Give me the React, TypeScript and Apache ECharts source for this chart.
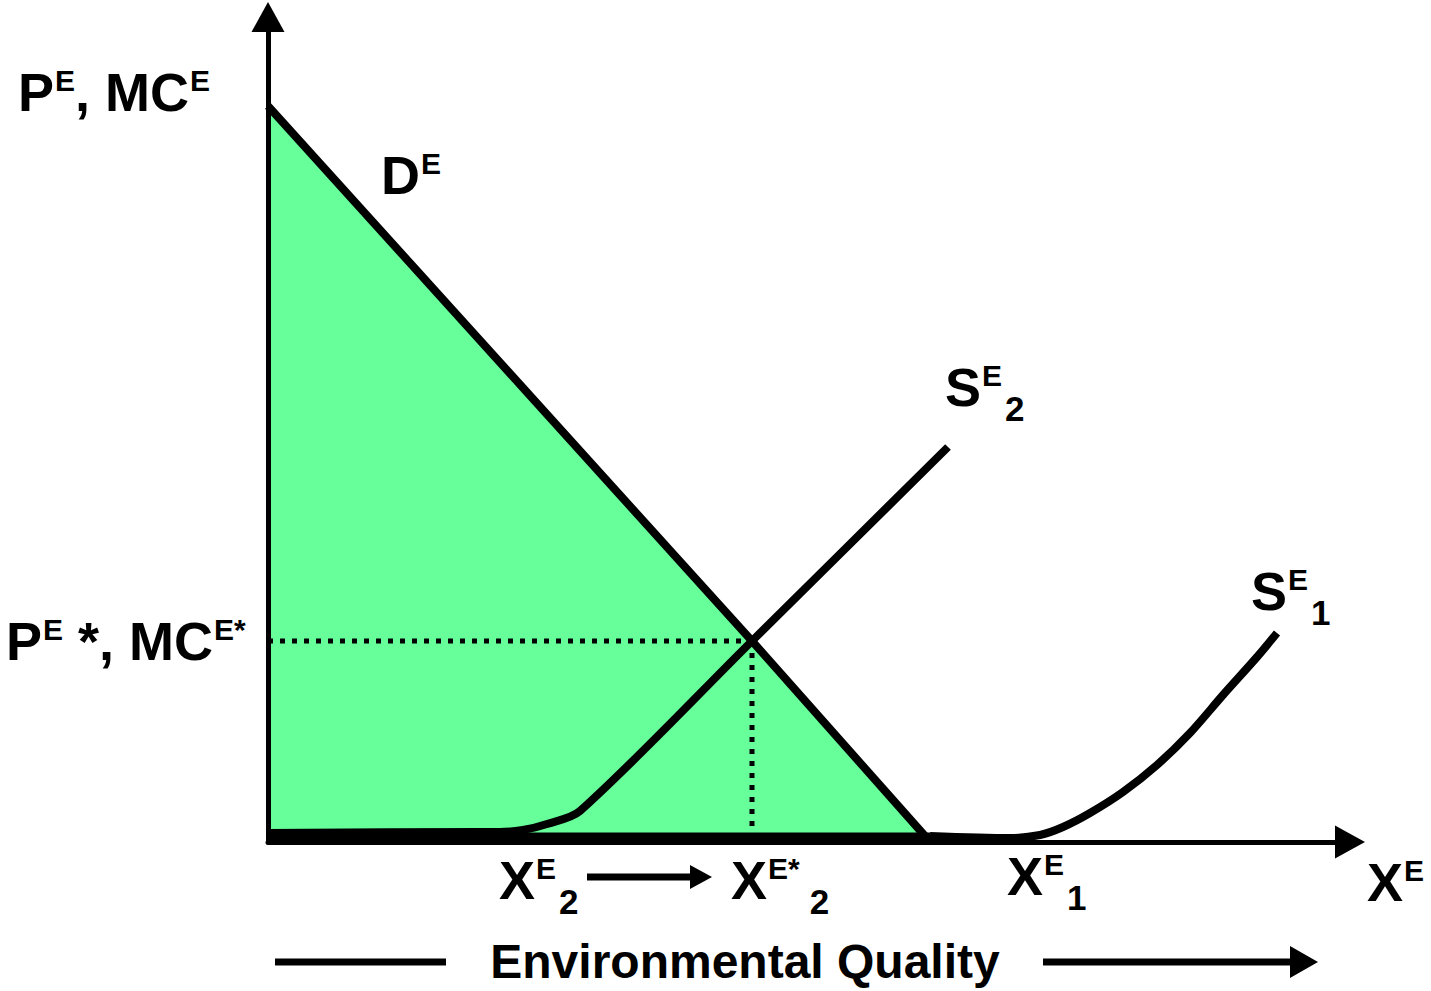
import React, { useEffect, useRef } from "react";
import * as echarts from "echarts";

const FONT = '"Liberation Sans", Arial, Helvetica, sans-serif';
const GREEN = "#66FF99";

// Demand curve D^E (data units)
const demand: number[][] = [
  [0, 736],
  [484, 201],
  [657, 6],
];
// bottom edge of shaded area
const baseEdge: number[][] = [
  [0, 5],
  [662, 5],
];
// Supply curve S^E_2
const supply2: number[][] = [
  [0, 9],
  [212, 10],
  [232, 10],
  [255, 12],
  [279, 18],
  [312, 31],
  [484, 201],
  [680, 395],
];
// Supply curve S^E_1
const supply1: number[][] = [
  [662, 6],
  [742, 4],
  [772, 7],
  [795, 15],
  [822, 29],
  [855, 50],
  [889, 77],
  [922, 109],
  [955, 147],
  [989, 185],
  [1009, 209],
];
// Equilibrium guide lines
const priceGuide: number[][] = [
  [0, 201],
  [484, 201],
];
const qtyGuide: number[][] = [
  [484, 201],
  [484, 12],
];

const X_MAX = 1082;
const Y_MAX = 825;

const base = { fontWeight: "bold", fontFamily: FONT, color: "#000", verticalAlign: "top" };
const rich = {
  m: { ...base, fontSize: 54, lineHeight: 72, padding: [3, 0, 0, 0] },
  b: { ...base, fontSize: 48, lineHeight: 60, padding: [3, 0, 0, 0] },
  sup: { ...base, fontSize: 30, padding: [3, 0, 0, 1] },
  sub: { ...base, fontSize: 35, padding: [34, 0, 0, 3] },
  subw: { ...base, fontSize: 35, padding: [34, 0, 0, 10] },
};

function label(x: number, y: number, text: string, align: string = "left") {
  return {
    type: "text",
    x,
    y,
    z: 20,
    style: {
      text,
      rich,
      align,
      verticalAlign: "top",
      fontFamily: FONT,
    },
  };
}

const labels = [
  label(18, 62, "{m|P}{sup|E}{m|, MC}{sup|E}"),
  label(381, 145, "{m|D}{sup|E}"),
  label(945, 357, "{m|S}{sup|E}{sub|2}"),
  label(1251, 561, "{m|S}{sup|E}{sub|1}"),
  label(6, 611, "{m|P}{sup|E}{m| *, MC}{sup|E*}"),
  label(499, 850, "{m|X}{sup|E}{sub|2}"),
  label(731, 850, "{m|X}{sup|E*}{subw|2}"),
  label(1007, 846, "{m|X}{sup|E}{sub|1}"),
  label(1367, 852, "{m|X}{sup|E}"),
  label(745, 934, "{b|Environmental Quality}", "center"),
];

const decorations = [
  {
    type: "line",
    shape: { x1: 587, y1: 877, x2: 694, y2: 877 },
    style: { stroke: "#000", lineWidth: 7 },
  },
  {
    type: "polygon",
    shape: { points: [[690, 865], [712, 877], [690, 889]] },
    style: { fill: "#000" },
  },
  {
    type: "line",
    shape: { x1: 275, y1: 962, x2: 446, y2: 962 },
    style: { stroke: "#000", lineWidth: 7 },
  },
  {
    type: "line",
    shape: { x1: 1043, y1: 962, x2: 1294, y2: 962 },
    style: { stroke: "#000", lineWidth: 7 },
  },
  {
    type: "polygon",
    shape: { points: [[1290, 946], [1318, 962], [1290, 978]] },
    style: { fill: "#000" },
  },
];

function lineSeries(name: string, data: number[][], extra: any = {}) {
  return {
    name,
    type: "line",
    data,
    symbol: "none",
    silent: true,
    lineStyle: { color: "#000", width: 8, cap: "butt", join: "round" },
    ...extra,
  };
}

export default function App() {
  const ref = useRef<HTMLDivElement>(null);
  useEffect(() => {
    if (!ref.current) return;
    const chart = echarts.init(ref.current, undefined, { renderer: "svg" });
    const axisCommon = {
      type: "value",
      min: 0,
      z: 5,
      axisLine: {
        show: true,
        symbol: ["none", "triangle"],
        symbolSize: [33, 30],
        lineStyle: { color: "#000", width: 5 },
      },
      axisTick: { show: false },
      axisLabel: { show: false },
      splitLine: { show: false },
    };
    chart.setOption({
      animation: false,
      backgroundColor: "#fff",
      grid: { left: 268, right: 1431 - 1350, top: 17, bottom: 991 - 842 },
      xAxis: { ...axisCommon, max: X_MAX },
      yAxis: { ...axisCommon, max: Y_MAX },
      series: [
        lineSeries("DE", demand, {
          z: 2,
          areaStyle: { color: GREEN, opacity: 1 },
        }),
        lineSeries("base", baseEdge, { z: 3, lineStyle: { color: "#000", width: 9, cap: "butt" } }),
        lineSeries("SE2", supply2, { z: 3, smooth: 0.3 }),
        lineSeries("SE1", supply1, { z: 3, smooth: 0.3 }),
        lineSeries("price", priceGuide, {
          z: 4,
          lineStyle: { color: "#000", width: 5, type: [5, 7], cap: "butt" },
        }),
        lineSeries("qty", qtyGuide, {
          z: 4,
          lineStyle: { color: "#000", width: 5, type: [5, 7], cap: "butt" },
        }),
      ],
      graphic: [...decorations, ...labels],
    });
    return () => chart.dispose();
  }, []);
  return (
    <div
      ref={ref}
      style={{ position: "fixed", left: 0, top: 0, width: 1431, height: 991, background: "#fff" }}
    />
  );
}
